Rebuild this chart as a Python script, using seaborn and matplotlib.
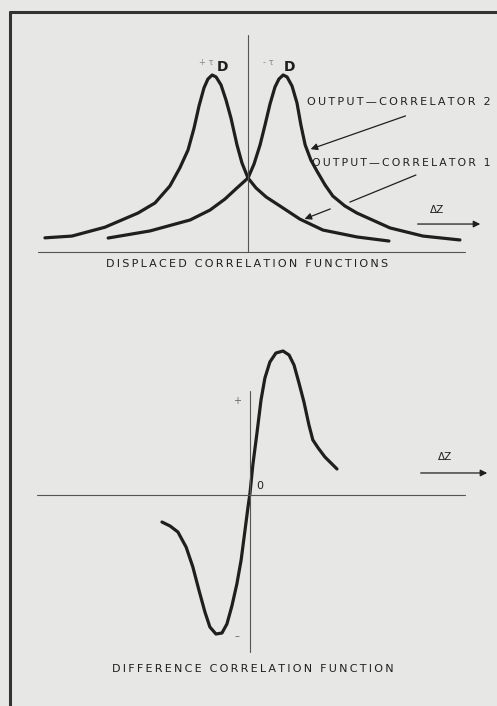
import numpy as np
import matplotlib
matplotlib.use("Agg")
import matplotlib.pyplot as plt
from matplotlib.lines import Line2D
import seaborn as sns

# delta z in units of tau_D, amplitudes normalised to the peak
corr1_dz = [-5.72, -4.96, -4.03, -3.10, -2.62, -2.20, -1.92, -1.69, -1.52, -1.38,
            -1.24, -1.13, -1.01, -0.90, -0.76, -0.62, -0.48, -0.31, -0.17, 0.00,
            0.225, 0.51, 0.90, 1.46, 2.11, 3.07, 3.97]
corr1_amp = [0.08, 0.09, 0.14, 0.22, 0.277, 0.373, 0.475, 0.576, 0.70, 0.825,
             0.927, 0.977, 1.00, 0.989, 0.944, 0.859, 0.757, 0.605, 0.503, 0.418,
             0.362, 0.311, 0.260, 0.186, 0.124, 0.085, 0.062]

corr2_dz = [-3.94, -2.76, -1.63, -1.07, -0.65, -0.31, 0.00, 0.17, 0.34, 0.48,
            0.62, 0.76, 0.87, 0.99, 1.10, 1.24, 1.38, 1.49, 1.61, 1.77, 1.94,
            2.17, 2.39, 2.73, 3.07, 4.00, 4.93, 5.97]
corr2_amp = [0.079, 0.119, 0.181, 0.237, 0.299, 0.362, 0.418, 0.497, 0.605, 0.718,
             0.836, 0.932, 0.977, 1.00, 0.989, 0.938, 0.842, 0.718, 0.605, 0.520,
             0.458, 0.379, 0.316, 0.260, 0.220, 0.136, 0.090, 0.068]

diff_dz = [-2.48, -2.25, -2.03, -1.80, -1.61, -1.44, -1.27, -1.13, -0.96, -0.79,
           -0.65, -0.51, -0.37, -0.25, -0.14, -0.06, 0.00, 0.08, 0.20, 0.31, 0.42,
           0.56, 0.73, 0.93, 1.10, 1.24, 1.38, 1.52, 1.66, 1.77, 1.92, 2.11, 2.45]
diff_amp = [-0.189, -0.217, -0.259, -0.364, -0.503, -0.664, -0.818, -0.923, -0.972,
            -0.965, -0.902, -0.776, -0.622, -0.455, -0.245, -0.091, 0.014, 0.210,
            0.441, 0.664, 0.818, 0.930, 0.993, 1.007, 0.979, 0.909, 0.783, 0.650,
            0.490, 0.385, 0.329, 0.266, 0.182]

top_title = "DISPLACED CORRELATION FUNCTIONS"
bottom_title = "DIFFERENCE CORRELATION FUNCTION"
label_c1 = "OUTPUT\u2014CORRELATOR 1"
label_c2 = "OUTPUT\u2014CORRELATOR 2"

sns.set_style("white")
plt.rcParams['font.family'] = ['DejaVu Sans']


def spaced(s):
    # the original lettering is widely tracked
    return "\u2009".join(s)


paper = '#e7e7e5'
ink = '#1f1f1f'
W, H = 497, 706
fig = plt.figure(figsize=(W / 100, H / 100), dpi=100, facecolor=paper)

# top panel: pixel rows 20..300
ax1 = fig.add_axes([0, 1 - 300 / H, 1, 280 / H])
ax1.set_xlim(-248 / 35.5, (W - 248) / 35.5)
ax1.set_ylim(-48 / 177, 232 / 177)
ax1.axis('off')

sns.lineplot(x=corr1_dz, y=corr1_amp, ax=ax1, sort=False, estimator=None,
             color=ink, linewidth=2.3)
sns.lineplot(x=corr2_dz, y=corr2_amp, ax=ax1, sort=False, estimator=None,
             color=ink, linewidth=2.3)
ax1.plot([-5.92, 6.11], [0, 0], color='#555', lw=0.8)
ax1.plot([0, 0], [0, 1.226], color='#555', lw=0.8)

ax1.text(-1.18, 1.07, "+ \u03c4", fontsize=6, color='#888', ha='center', va='center')
ax1.text(-0.73, 1.045, "D", fontsize=10, fontweight='bold', color=ink, ha='center', va='center')
ax1.text(0.56, 1.07, "- \u03c4", fontsize=6, color='#888', ha='center', va='center')
ax1.text(1.18, 1.045, "D", fontsize=10, fontweight='bold', color=ink, ha='center', va='center')

ax1.text(1.66, 0.85, spaced(label_c2), fontsize=8, color=ink, ha='left', va='center')
ax1.text(1.80, 0.50, spaced(label_c1), fontsize=7.8, color=ink, ha='left', va='center')

arrow_kw = dict(arrowstyle='-|>', color=ink, lw=0.9, mutation_scale=10)
ax1.annotate("", xy=(1.69, 0.576), xytext=(4.51, 0.774), arrowprops=arrow_kw)
ax1.plot([4.73, 2.87], [0.435, 0.282], color=ink, lw=0.9)
ax1.annotate("", xy=(1.52, 0.181), xytext=(2.39, 0.249), arrowprops=arrow_kw)

ax1.text(5.32, 0.237, "\u0394Z", fontsize=7.5, color=ink, ha='center', va='center')
ax1.annotate("", xy=(6.62, 0.158), xytext=(4.70, 0.158), arrowprops=arrow_kw)
ax1.text(-0.03, -0.068, spaced(top_title), fontsize=8, color=ink, ha='center', va='center')

# bottom panel: pixel rows 320..700
ax2 = fig.add_axes([0, 1 - 700 / H, 1, 380 / H])
ax2.set_xlim(-250 / 35.5, (W - 250) / 35.5)
ax2.set_ylim(-205 / 143, 175 / 143)
ax2.axis('off')

sns.lineplot(x=diff_dz, y=diff_amp, ax=ax2, sort=False, estimator=None,
             color=ink, linewidth=2.3)
ax2.plot([-6.0, 6.06], [0, 0], color='#555', lw=0.8)
ax2.plot([0, 0], [-1.10, 0.73], color='#555', lw=0.8)

ax2.text(-0.37, 0.66, "+", fontsize=7, color='#666', ha='center', va='center')
ax2.text(-0.37, -0.99, "\u2013", fontsize=7, color='#666', ha='center', va='center')
ax2.text(0.28, 0.063, "0", fontsize=8, color=ink, ha='center', va='center')
ax2.text(5.49, 0.266, "\u0394Z", fontsize=7.5, color=ink, ha='center', va='center')
ax2.annotate("", xy=(6.76, 0.154), xytext=(4.73, 0.154), arrowprops=arrow_kw)
ax2.text(0.085, -1.22, spaced(bottom_title), fontsize=8, color=ink, ha='center', va='center')

# page frame
fig.add_artist(Line2D([10 / W, 1], [1 - 12 / H, 1 - 12 / H], color='#333', lw=2.2))
fig.add_artist(Line2D([10 / W, 10 / W], [0, 1 - 12 / H], color='#333', lw=2.2))

fig.savefig("out.png", dpi=100, facecolor=fig.get_facecolor())
